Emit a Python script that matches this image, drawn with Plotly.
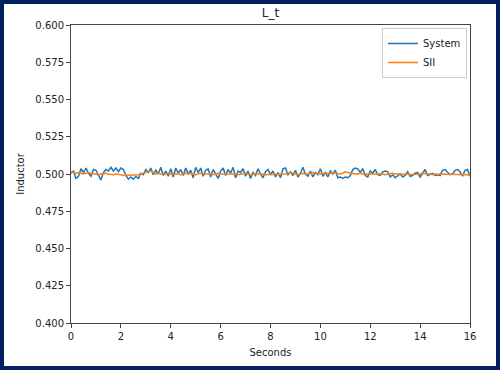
import plotly.graph_objects as go

seconds = [
    0.0, 0.1, 0.2, 0.3, 0.4, 0.5, 0.6, 0.7, 0.8, 0.9,
    1.0, 1.1, 1.2, 1.3, 1.4, 1.5, 1.6, 1.7, 1.8, 1.9,
    2.0, 2.1, 2.2, 2.3, 2.4, 2.5, 2.6, 2.7, 2.8, 2.9,
    3.0, 3.1, 3.2, 3.3, 3.4, 3.5, 3.6, 3.7, 3.8, 3.9,
    4.0, 4.1, 4.2, 4.3, 4.4, 4.5, 4.6, 4.7, 4.8, 4.9,
    5.0, 5.1, 5.2, 5.3, 5.4, 5.5, 5.6, 5.7, 5.8, 5.9,
    6.0, 6.1, 6.2, 6.3, 6.4, 6.5, 6.6, 6.7, 6.8, 6.9,
    7.0, 7.1, 7.2, 7.3, 7.4, 7.5, 7.6, 7.7, 7.8, 7.9,
    8.0, 8.1, 8.2, 8.3, 8.4, 8.5, 8.6, 8.7, 8.8, 8.9,
    9.0, 9.1, 9.2, 9.3, 9.4, 9.5, 9.6, 9.7, 9.8, 9.9,
    10.0, 10.1, 10.2, 10.3, 10.4, 10.5, 10.6, 10.7, 10.8, 10.9,
    11.0, 11.1, 11.2, 11.3, 11.4, 11.5, 11.6, 11.7, 11.8, 11.9,
    12.0, 12.1, 12.2, 12.3, 12.4, 12.5, 12.6, 12.7, 12.8, 12.9,
    13.0, 13.1, 13.2, 13.3, 13.4, 13.5, 13.6, 13.7, 13.8, 13.9,
    14.0, 14.1, 14.2, 14.3, 14.4, 14.5, 14.6, 14.7, 14.8, 14.9,
    15.0, 15.1, 15.2, 15.3, 15.4, 15.5, 15.6, 15.7, 15.8, 15.9,
    16.0,
]

system = [
    0.5005, 0.502, 0.497, 0.4985, 0.5035, 0.501, 0.504, 0.5005, 0.4985, 0.503,
    0.5025, 0.4995, 0.496, 0.501, 0.503, 0.502, 0.5045, 0.502, 0.504, 0.5015,
    0.504, 0.503, 0.499, 0.4965, 0.498, 0.4965, 0.4985, 0.497, 0.5005, 0.4995,
    0.503, 0.501, 0.504, 0.4995, 0.5025, 0.500, 0.5045, 0.499, 0.502, 0.4985,
    0.5035, 0.498, 0.504, 0.5005, 0.503, 0.499, 0.504, 0.500, 0.5025, 0.4975,
    0.5045, 0.501, 0.504, 0.4985, 0.5025, 0.5035, 0.498, 0.503, 0.4995, 0.497,
    0.502, 0.504, 0.499, 0.503, 0.5005, 0.5045, 0.4975, 0.502, 0.501, 0.5035,
    0.4985, 0.502, 0.497, 0.501, 0.499, 0.5035, 0.500, 0.4975, 0.5015, 0.503,
    0.4995, 0.502, 0.498, 0.501, 0.4975, 0.5035, 0.504, 0.4995, 0.5015, 0.499,
    0.5025, 0.498, 0.5005, 0.5045, 0.500, 0.4985, 0.502, 0.498, 0.501, 0.4995,
    0.5035, 0.4985, 0.501, 0.498, 0.502, 0.500, 0.5025, 0.4975, 0.498, 0.497,
    0.498, 0.4975, 0.499, 0.503, 0.504, 0.5035, 0.501, 0.5035, 0.499, 0.498,
    0.502, 0.5005, 0.503, 0.4995, 0.499, 0.5015, 0.502, 0.5015, 0.498, 0.4995,
    0.4975, 0.499, 0.500, 0.498, 0.499, 0.5015, 0.4985, 0.499, 0.5005, 0.501,
    0.498, 0.5005, 0.503, 0.499, 0.500, 0.5005, 0.499, 0.4995, 0.499, 0.5025,
    0.503, 0.501, 0.4995, 0.500, 0.5025, 0.503, 0.5015, 0.4985, 0.5025, 0.503,
    0.4985,
]

sii = [
    0.5015, 0.501, 0.5005, 0.501, 0.5005, 0.500, 0.5005, 0.501, 0.5005, 0.500,
    0.500, 0.4995, 0.500, 0.5005, 0.5005, 0.500, 0.4995, 0.4995, 0.500, 0.500,
    0.4995, 0.499, 0.499, 0.4995, 0.4995, 0.499, 0.499, 0.4995, 0.500, 0.5005,
    0.501, 0.5015, 0.502, 0.501, 0.500, 0.5005, 0.500, 0.4995, 0.500, 0.5005,
    0.500, 0.500, 0.5005, 0.500, 0.4995, 0.500, 0.5005, 0.500, 0.5005, 0.500,
    0.4995, 0.500, 0.5005, 0.500, 0.500, 0.5005, 0.500, 0.4995, 0.500, 0.5005,
    0.500, 0.500, 0.5005, 0.500, 0.500, 0.5005, 0.500, 0.4995, 0.500, 0.500,
    0.5005, 0.500, 0.4995, 0.500, 0.500, 0.5005, 0.500, 0.500, 0.4995, 0.4995,
    0.500, 0.500, 0.4995, 0.500, 0.4995, 0.4995, 0.500, 0.5005, 0.501, 0.5005,
    0.500, 0.4995, 0.500, 0.5005, 0.500, 0.500, 0.5005, 0.501, 0.5005, 0.500,
    0.500, 0.5005, 0.5005, 0.500, 0.5005, 0.501, 0.5005, 0.500, 0.500, 0.5005,
    0.5015, 0.501, 0.5005, 0.5005, 0.500, 0.500, 0.5005, 0.500, 0.500, 0.5005,
    0.5005, 0.500, 0.5005, 0.5005, 0.500, 0.500, 0.4995, 0.500, 0.5005, 0.5005,
    0.500, 0.500, 0.5005, 0.500, 0.500, 0.500, 0.4995, 0.4995, 0.500, 0.500,
    0.500, 0.5005, 0.500, 0.500, 0.500, 0.4995, 0.500, 0.500, 0.500, 0.500,
    0.500, 0.500, 0.4995, 0.500, 0.500, 0.500, 0.4995, 0.4995, 0.4995, 0.4995,
    0.499,
]

FONT = "DejaVu Sans, sans-serif"
NAVY = "#002060"
SPINE = "#444444"

fig = go.Figure()
fig.add_trace(go.Scatter(x=seconds, y=system, mode="lines", name="System",
                         line=dict(color="#1f77b4", width=1.5)))
fig.add_trace(go.Scatter(x=seconds, y=sii, mode="lines", name="SII",
                         line=dict(color="#ff7f0e", width=1.5)))

L, R, T, B = 71, 30, 25, 47
W, H = 500, 370
pw, ph = W - L - R, H - T - B

# white inner panel inside the navy border
fig.add_shape(type="rect", xref="paper", yref="paper", layer="below",
              x0=(4 - L) / pw, x1=(W - 4 - L) / pw,
              y0=(T + ph - (H - 4)) / ph, y1=(T + ph - 4) / ph,
              fillcolor="white", line=dict(width=0))

axis_common = dict(
    showgrid=False, zeroline=False, showline=True, linecolor=SPINE, linewidth=1,
    mirror=True, ticks="outside", ticklen=4, tickwidth=1, tickcolor=SPINE,
    tickfont=dict(family=FONT, size=10, color="#222222"),
)

fig.update_layout(
    width=W, height=H,
    margin=dict(l=L, r=R, t=T, b=B),
    paper_bgcolor=NAVY, plot_bgcolor="white",
    font=dict(family=FONT, color="#222222"),
    title=dict(text="L_t", x=0.5, xref="paper", y=1 - 13 / H, yref="container",
               xanchor="center", yanchor="middle",
               font=dict(family=FONT, size=12, color="#222222")),
    xaxis=dict(range=[0, 16], dtick=2, tick0=0,
               title=dict(text="Seconds", standoff=7,
                          font=dict(family=FONT, size=10, color="#222222")),
               **axis_common),
    yaxis=dict(range=[0.4, 0.6], dtick=0.025, tick0=0.4, tickformat=".3f",
               title=dict(text="Inductor", standoff=8,
                          font=dict(family=FONT, size=10, color="#222222")),
               **axis_common),
    legend=dict(x=(467 - L) / pw, y=(T + ph - 28) / ph, xanchor="right", yanchor="top",
                bgcolor="white", bordercolor="#cccccc", borderwidth=1,
                font=dict(family=FONT, size=10, color="#222222"),
                tracegroupgap=0, itemwidth=30),
    showlegend=True,
)

fig.write_html("out.html", config={"displayModeBar": False},
               post_script="document.body.style.margin='0';document.body.style.padding='0';")
